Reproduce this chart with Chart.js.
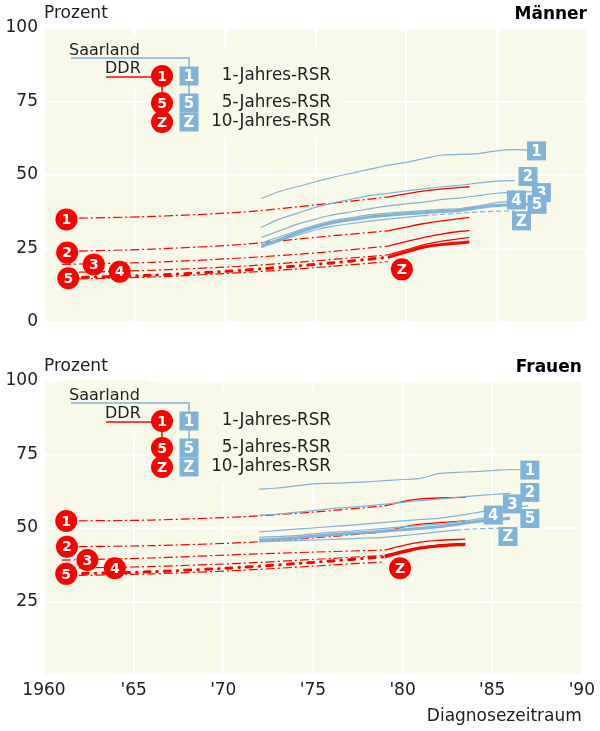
<!DOCTYPE html>
<html><head><meta charset="utf-8">
<script src="https://cdn.jsdelivr.net/npm/chart.js@4"></script>
<style>
html,body{margin:0;padding:0;background:#fff;}
#wrap{position:relative;width:600px;height:731px;}
.box{position:absolute;left:0;width:600px;}
#bM{top:0;height:340px;}
#bF{top:340px;height:391px;}
</style></head><body>
<div id="wrap">
<div class="box" id="bM"><canvas id="cM"></canvas></div>
<div class="box" id="bF"><canvas id="cF"></canvas></div>
</div>
<script>
/* ── data ── */
const YEARS_DDR_DASH=[1961,1966,1971,1975,1979];
const YEARS_DDR_SOLID=[1979,1980,1981,1982,1983.5];
const YEARS_SAAR=[1972,1973,1974,1975,1976,1977,1978,1979,1980,1981,1982,1983,1984,1985,1986,1987];
const rateKeys=['1','2','3','4','5','Z'];
const legendKeys=['1','5','Z'];
const legendTexts=['1-Jahres-RSR','5-Jahres-RSR','10-Jahres-RSR'];

// Männer, DDR: dash-dot part and solid part (rates 1..5, Z)
const menDdrDash=[
  [35.2,35.9,37.4,39.8,42.5],
  [24.0,24.8,26.4,28.8,31.0],
  [19.6,20.3,21.8,23.5,25.8],
  [16.8,17.6,19.0,20.8,22.8],
  [15.0,15.9,17.6,19.6,22.0],
  [14.5,15.3,16.8,18.5,20.5]];
const menDdrSolid=[
  [42.5,43.6,44.6,45.3,46.0],
  [31.0,32.3,33.5,34.4,35.6],
  [25.8,27.3,28.8,30.0,31.2],
  [22.8,24.5,26.3,27.5,28.8],
  [22.0,23.8,25.5,26.4,27.2]];
// Männer, Saarland (1..5, Z solid part)
const menSaar=[
  [42.0,44.4,46.0,47.7,49.3,50.6,52.0,53.3,54.3,55.6,56.8,57.0,57.3,58.2,58.6,58.4],
  [32.2,35.0,37.0,39.0,40.5,41.8,43.0,43.8,44.6,45.3,46.0,46.5,47.3,47.9,48.1],
  [28.8,31.0,33.3,35.0,36.5,37.5,38.5,39.5,40.2,40.8,41.7,42.2,43.0,43.8,44.2,44.3],
  [26.8,29.0,31.0,33.0,34.5,35.5,36.5,37.0,37.5,37.9,38.3,38.6,39.5,40.6,41.2],
  [25.8,28.0,30.3,32.3,33.8,34.8,35.7,36.3,36.8,37.2,37.6,38.0,38.9,39.6,40.0,40.1],
  [25.3,27.5,29.5,31.3,32.6,33.5,34.3,35.0,35.6,36.2]];
const menSaarZDashYears=[1981,1982,1983,1984,1985,1986];
const menSaarZDash=[36.2,36.6,37.0,37.4,37.7,37.8];
const menCircles=[[1961.24,34.9],[1961.28,23.6],[1962.75,19.6],[1964.18,17.1],[1961.34,14.9],[1979.77,17.9]];
const menSquares=[[1987.21,58.2],[1986.74,49.5],[1987.48,44.0],[1986.10,41.5],[1987.24,40.0],[1986.38,34.4]];

// Frauen, DDR
const womenDdrDash=[
  [52.4,52.7,53.8,55.4,57.5],
  [43.6,44.0,45.0,46.6,48.7],
  [39.1,39.8,41.0,41.8,42.5],
  [36.3,36.9,38.0,39.3,40.7],
  [34.4,35.1,36.6,38.3,40.2],
  [33.8,34.4,35.6,37.0,38.5]];
const womenDdrSolid=[
  [57.5,59.0,59.9,60.2,60.4],
  [48.7,50.3,51.3,51.8,52.4],
  [42.5,44.0,45.2,45.8,46.2],
  [40.7,42.3,43.5,44.2,44.8],
  [40.2,41.8,43.2,43.9,44.4]];
// Frauen, Saarland
const womenSaar=[
  [63.2,63.6,64.3,65.0,65.2,65.4,65.7,66.1,66.5,66.9,68.5,68.9,69.2,69.5,69.9,69.7],
  [54.4,54.7,55.3,55.9,56.6,57.0,57.5,58.1,58.7,59.3,59.8,60.4,60.9,61.4,61.8],
  [48.7,49.1,49.6,50.0,50.5,50.9,51.4,51.9,52.4,52.9,53.3,54.1,55.1,56.1,56.9,57.5],
  [46.8,47.1,47.4,48.0,48.5,48.9,49.4,49.9,50.4,50.9,51.3,52.0,52.9,53.5],
  [45.9,46.2,46.6,47.2,47.7,48.1,48.5,49.0,49.4,49.9,50.4,51.2,52.1,52.8,53.3],
  [45.3,45.5,45.7,45.9,46.1,46.3,46.6,46.8,47.4,48.0,48.7,49.3]];
const womenSaarZDashYears=[1983,1984,1985,1985.5];
const womenSaarZDash=[49.3,49.7,49.9,49.9];
const womenCircles=[[1961.24,52.4],[1961.28,43.6],[1962.42,39.1],[1963.95,36.3],[1961.24,34.4],[1979.86,36.3]];
const womenSquares=[[1987.10,69.7],[1987.10,62.1],[1986.13,58.2],[1985.06,54.4],[1987.10,53.2],[1985.88,47.1]];

/* ── style ── */
const FONT="'DejaVu Sans',Verdana,sans-serif";
const INK='#222';
const RED='#ff0000', BLUE='#80b3d8', PLOT_BG='#f9f9e9';

const pts=(xs,ys)=>ys.map((v,i)=>({x:xs[i],y:v}));
function line(data,color,width,dash,cap){
  return {data,borderColor:color,borderWidth:width,borderDash:dash||[],borderCapStyle:cap||'butt',
    pointRadius:0,tension:0.25,fill:false};
}
function circle(ctx,x,y,t){
  ctx.beginPath();ctx.arc(x,y,11,0,Math.PI*2);ctx.fillStyle=RED;ctx.fill();
  ctx.fillStyle='#fff';ctx.font="bold 14px "+FONT;ctx.textAlign='center';ctx.textBaseline='middle';
  ctx.fillText(t,x,y+1);
}
function square(ctx,x,y,t){
  ctx.fillStyle=BLUE;ctx.fillRect(x-9.5,y-9.5,19,19);
  ctx.fillStyle='#fff';ctx.font="bold 15px "+FONT;ctx.textAlign='center';ctx.textBaseline='middle';
  ctx.fillText(t,x,y+1);
}

function makeChart(id,o){
  const datasets=[];
  o.saar.forEach((v,i)=>datasets.push(line(pts(YEARS_SAAR,v),BLUE,i===4?3:1.2)));
  datasets.push(line(pts(o.zDashYears,o.zDash),BLUE,1.2,[5,3]));
  o.ddrDash.forEach((v,i)=>datasets.push(i===4
    ?line(pts(YEARS_DDR_DASH,v),RED,3,[6,7,0.5,7],'round')
    :line(pts(YEARS_DDR_DASH,v),RED,1.2,[9,3,2,3])));
  o.ddrSolid.forEach((v,i)=>datasets.push(line(pts(YEARS_DDR_SOLID,v),RED,i===4?3:1.3)));

  const deco={id:'deco',
    beforeDraw(c){const a=c.chartArea,ctx=c.ctx;ctx.save();ctx.fillStyle=PLOT_BG;
      ctx.fillRect(a.left,a.top,a.right-a.left,a.bottom-a.top);ctx.restore();},
    beforeDatasetsDraw(c){ // legend block hides grid lines
      const a=c.chartArea,ctx=c.ctx,sx=a.left+145,r0=a.top+o.legendDy;
      ctx.save();ctx.fillStyle=PLOT_BG;
      ctx.fillRect(sx-127,r0-41,85,55);
      ctx.fillRect(sx-42,r0-29,195,91);
      ctx.restore();},
    afterDatasetsDraw(c){
      const {ctx,chartArea:a,scales:{x,y}}=c;
      ctx.save();
      o.circles.forEach(([yr,v],i)=>circle(ctx,x.getPixelForValue(yr),y.getPixelForValue(v),rateKeys[i]));
      o.squares.forEach(([yr,v],i)=>square(ctx,x.getPixelForValue(yr),y.getPixelForValue(v),rateKeys[i]));
      // legend
      const r0=a.top+o.legendDy,cx=a.left+118,sx=a.left+145,rows=[0,27,46];
      ctx.lineWidth=1.5;
      ctx.strokeStyle=BLUE;ctx.beginPath();
      ctx.moveTo(a.left+27,r0-18);ctx.lineTo(sx,r0-18);ctx.lineTo(sx,r0+rows[1]);ctx.stroke();
      ctx.strokeStyle=RED;ctx.beginPath();
      ctx.moveTo(a.left+62,r0+1);ctx.lineTo(cx,r0+1);ctx.moveTo(cx,r0);ctx.lineTo(cx,r0+rows[1]);ctx.stroke();
      ctx.fillStyle=INK;ctx.font="16px "+FONT;ctx.textAlign='left';ctx.textBaseline='alphabetic';
      ctx.fillText('Saarland',a.left+25,r0-21);
      ctx.fillText('DDR',a.left+61,r0-3);
      legendKeys.forEach((k,i)=>{circle(ctx,cx,r0+rows[i],k);square(ctx,sx,r0+rows[i],k);});
      ctx.fillStyle=INK;ctx.font="16.8px "+FONT;ctx.textAlign='right';ctx.textBaseline='middle';
      legendTexts.forEach((t,i)=>ctx.fillText(t,a.left+287,r0+rows[i]));
      ctx.restore();},
    afterDraw(c){
      const {ctx,chartArea:a}=c;ctx.save();ctx.textBaseline='middle';
      ctx.fillStyle=INK;ctx.font="17px "+FONT;ctx.textAlign='left';ctx.fillText('Prozent',a.left,a.top-14);
      ctx.fillStyle='#000';ctx.font="bold 17px "+FONT;ctx.textAlign='right';ctx.fillText(o.title,a.right,a.top-13);
      ctx.restore();}
  };

  return new Chart(document.getElementById(id),{type:'line',data:{datasets},plugins:[deco],
    options:{responsive:true,maintainAspectRatio:false,animation:false,
      layout:{padding:{top:o.padTop,right:13,bottom:o.padBottom,left:0}},
      plugins:{legend:{display:false},tooltip:{enabled:false}},
      scales:{
        x:{type:'linear',min:1960,max:1990,
          grid:{color:'#fff',lineWidth:2,drawTicks:false},border:{display:false},
          ticks:{stepSize:5,display:o.xLabels,autoSkip:false,maxRotation:0,padding:5,color:INK,font:{size:17,family:FONT},
            callback:v=>v===1960?'1960':"'"+String(v).slice(2)},
          title:{display:o.xLabels,text:'Diagnosezeitraum',align:'end',color:INK,font:{size:17,family:FONT},padding:{top:0,bottom:4}},
          afterFit:s=>{s.height=o.xHeight;}},
        y:{min:0,max:100,
          grid:{color:'#fff',lineWidth:2,drawTicks:false},border:{display:false},
          ticks:{stepSize:25,padding:6,color:INK,font:{size:17,family:FONT},callback:o.yTick},
          afterFit:s=>{s.width=44;}}
      }}});
}

makeChart('cM',{title:'Männer',saar:menSaar,zDashYears:menSaarZDashYears,zDash:menSaarZDash,
  ddrDash:menDdrDash,ddrSolid:menDdrSolid,circles:menCircles,squares:menSquares,
  legendDy:48,padTop:28,padBottom:18,xHeight:0,xLabels:false,yTick:v=>v});
makeChart('cF',{title:'Frauen',saar:womenSaar,zDashYears:womenSaarZDashYears,zDash:womenSaarZDash,
  ddrDash:womenDdrDash,ddrSolid:womenDdrSolid,circles:womenCircles,squares:womenSquares,
  legendDy:40,padTop:41,padBottom:0,xHeight:56,xLabels:true,yTick:v=>v===0?'':v});
</script>
</body></html>
